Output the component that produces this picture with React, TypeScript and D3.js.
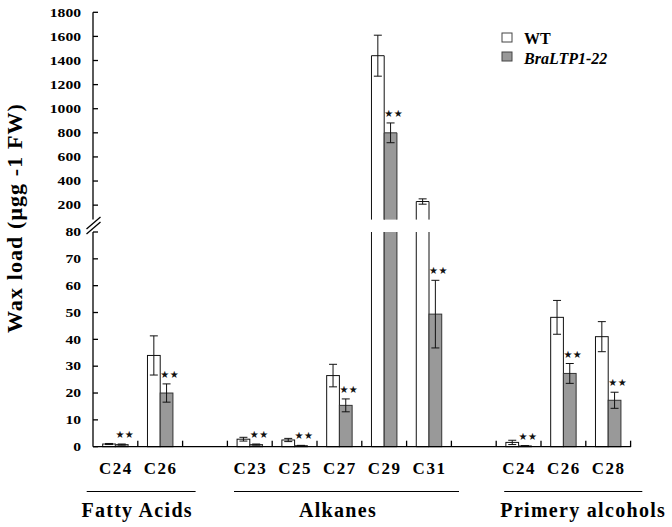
import React from "react";
import * as d3 from "d3";

// ---------- data ----------
const slotLabels = ["C24", "C26", "", "C23", "C25", "C27", "C29", "C31", "", "C24", "C26", "C28"];
const seriesNames = ["WT", "BraLTP1-22"];
const wtValues = [1.0, 34, null, 2.8, 2.5, 26.5, 1440, 230, null, 1.6, 48.2, 41];
const wtErrors = [0.2, 7.3, null, 0.7, 0.6, 4.2, 170, 22, null, 0.8, 6.3, 5.6];
const mutValues = [0.8, 20, null, 0.8, 0.4, 15.4, 800, 49.4, null, 0.3, 27.3, 17.3];
const mutErrors = [0.2, 3.4, null, 0.2, 0.1, 2.4, 82, 12.6, null, 0.1, 3.7, 3.0];
const significant = [true, true, false, true, true, true, true, true, false, true, true, true];
const groupNames = ["Fatty Acids", "Alkanes", "Primery alcohols"];
const groupFirstSlot = [0, 3, 9];
const groupLastSlot = [1, 7, 11];
const upperTicks = [200, 400, 600, 800, 1000, 1200, 1400, 1600, 1800];
const lowerTicks = [0, 10, 20, 30, 40, 50, 60, 70, 80];
const yLabel = "Wax load (μgg -1 FW)";

// ---------- layout ----------
const W = 672;
const H = 527;
const FONT = "'Liberation Serif', 'Times New Roman', serif";
const axisX = 93;
const axisRight = 630.6;
const BREAK = 80;

const xSlot = d3
  .scaleBand<number>()
  .domain(slotLabels.map((_, i) => i))
  .range([axisX, axisRight])
  .padding(0);
const xInner = d3
  .scaleBand<string>()
  .domain(seriesNames)
  .range([0, xSlot.bandwidth()])
  .paddingInner(0)
  .paddingOuter(0.76);

const yUpper = d3.scaleLinear().domain([BREAK, 1800]).range([219.6, 12.3]);
const yLower = d3.scaleLinear().domain([0, BREAK]).range([446.7, 232]);
const yOf = (v: number) => (v >= BREAK ? yUpper(v) : yLower(v));

const groupPad: [number, number][] = [
  [-6.3, 13],
  [6.6, 7.6],
  [8, 11.7],
];
const groupTextShift = [-4, -8.5, 10];

function Bar({ x, w, v, fill, stroke }: { x: number; w: number; v: number; fill: string; stroke: string }) {
  if (v < BREAK) {
    const y0 = yLower(0);
    const y1 = yLower(v);
    return (
      <rect x={x} y={y1} width={w} height={y0 - y1} fill={fill} stroke={stroke} strokeWidth={1} />
    );
  }
  const lowTop = yLower(BREAK);
  const lowBot = yLower(0);
  const upTop = yUpper(v);
  const upBot = yUpper(BREAK);
  return (
    <g>
      <rect x={x} y={lowTop} width={w} height={lowBot - lowTop} fill={fill} stroke="none" />
      <path d={`M${x},${lowTop}V${lowBot}H${x + w}V${lowTop}`} fill="none" stroke={stroke} strokeWidth={1} />
      <rect x={x} y={upTop} width={w} height={upBot - upTop} fill={fill} stroke="none" />
      <path d={`M${x},${upBot}V${upTop}H${x + w}V${upBot}`} fill="none" stroke={stroke} strokeWidth={1} />
    </g>
  );
}

function ErrorBar({ cx, v, e }: { cx: number; v: number; e: number }) {
  const yt = yOf(v + e);
  const yb = yOf(Math.max(v - e, 0));
  const cap = 4;
  return (
    <g stroke="#111" strokeWidth={1} fill="none">
      <line x1={cx} x2={cx} y1={yt} y2={yb} />
      <line x1={cx - cap} x2={cx + cap} y1={yt} y2={yt} />
      <line x1={cx - cap} x2={cx + cap} y1={yb} y2={yb} />
    </g>
  );
}

export default function App() {
  const bw = xInner.bandwidth();
  const series = [
    { name: seriesNames[0], values: wtValues, errors: wtErrors, fill: "#ffffff", stroke: "#111" },
    { name: seriesNames[1], values: mutValues, errors: mutErrors, fill: "#999999", stroke: "#333" },
  ];

  return (
    <svg width={W} height={H} style={{ display: "block", position: "absolute", left: 0, top: 0 }} fontFamily={FONT}>
      <rect x={0} y={0} width={W} height={H} fill="#ffffff" />

      {/* bars */}
      {series.map((s) =>
        slotLabels.map((_, i) => {
          const v = s.values[i];
          if (v == null) return null;
          const x = (xSlot(i) as number) + (xInner(s.name) as number);
          return <Bar key={s.name + i} x={x} w={bw} v={v} fill={s.fill} stroke={s.stroke} />;
        })
      )}

      {/* error bars */}
      {series.map((s) =>
        slotLabels.map((_, i) => {
          const v = s.values[i];
          const e = s.errors[i];
          if (v == null || e == null) return null;
          const cx = (xSlot(i) as number) + (xInner(s.name) as number) + bw / 2;
          return <ErrorBar key={"e" + s.name + i} cx={cx} v={v} e={e} />;
        })
      )}

      {/* significance stars */}
      {slotLabels.map((_, i) => {
        const v = mutValues[i];
        const e = mutErrors[i];
        if (!significant[i] || v == null || e == null) return null;
        const x = (xSlot(i) as number) + (xInner(seriesNames[1]) as number);
        const y = yOf(v + e) - 10;
        return (
          <text
            key={"s" + i}
            x={x}
            y={y + 4}
            fontFamily="'DejaVu Sans', sans-serif"
            fontSize={10}
            letterSpacing={0.5}
            fill="#111"
          >
            ★★
          </text>
        );
      })}

      {/* y axis */}
      <g stroke="#000" strokeWidth={1.3} fill="none">
        <line x1={axisX} x2={axisX} y1={yUpper(1800)} y2={yUpper(BREAK)} />
        <line x1={axisX} x2={axisX} y1={yLower(BREAK)} y2={yLower(0)} />
        {upperTicks.map((t) => (
          <line key={"ut" + t} x1={axisX} x2={axisX + 5} y1={yUpper(t)} y2={yUpper(t)} />
        ))}
        {lowerTicks.map((t) => (
          <line key={"lt" + t} x1={axisX} x2={axisX + 5} y1={yLower(t)} y2={yLower(t)} />
        ))}
        {/* break marks */}
        <line x1={86.5} y1={229} x2={100.5} y2={217} />
        <line x1={86.5} y1={234} x2={100.5} y2={222} />
      </g>
      <g fontWeight="bold" fontSize={12.5} fill="#000">
        {upperTicks.map((t) => (
          <text key={"ul" + t} transform={`translate(81,${yUpper(t) + 4.3}) scale(1.25,1)`} textAnchor="end">
            {t}
          </text>
        ))}
        {lowerTicks.map((t) => (
          <text key={"ll" + t} transform={`translate(81,${yLower(t) + 4.3}) scale(1.25,1)`} textAnchor="end">
            {t}
          </text>
        ))}
      </g>

      {/* x axis */}
      <g stroke="#000" strokeWidth={1.3}>
        <line x1={axisX} x2={axisRight + 0.5} y1={yLower(0)} y2={yLower(0)} />
        {slotLabels.map((_, i) => {
          const x = (xSlot(i) as number) + xSlot.bandwidth();
          return <line key={"xt" + i} x1={x} x2={x} y1={yLower(0)} y2={yLower(0) - 6} />;
        })}
      </g>
      <g fontWeight="bold" fontSize={17} fill="#000" textAnchor="middle" letterSpacing={1.5}>
        {slotLabels.map((l, i) =>
          l ? (
            <text key={"xl" + i} x={(xSlot(i) as number) + xSlot.bandwidth() / 2 + 0.5} y={474}>
              {l}
            </text>
          ) : null
        )}
      </g>

      {/* groups */}
      {groupNames.map((g, k) => {
        const x1 = (xSlot(groupFirstSlot[k]) as number) + groupPad[k][0];
        const x2 = (xSlot(groupLastSlot[k]) as number) + xSlot.bandwidth() + groupPad[k][1];
        const cx = (x1 + x2) / 2 + groupTextShift[k];
        return (
          <g key={"g" + k}>
            <line x1={x1} x2={x2} y1={491.5} y2={491.5} stroke="#000" strokeWidth={1.2} />
            <text x={cx} y={516.5} textAnchor="middle" fontWeight="bold" fontSize={20} letterSpacing={1.3} fill="#000">
              {g}
            </text>
          </g>
        );
      })}

      {/* y label */}
      <text
        transform={`translate(22,218) rotate(-90)`}
        textAnchor="middle"
        fontWeight="bold"
        fontSize={22}
        letterSpacing={1.1}
        fill="#000"
      >
        {yLabel}
      </text>

      {/* legend */}
      <g>
        <rect x={502} y={33} width={10} height={9} fill="#ffffff" stroke="#444" strokeWidth={1} />
        <text x={524} y={43.5} fontWeight="bold" fontSize={16} fill="#000">
          {seriesNames[0]}
        </text>
        <rect x={502} y={52} width={10} height={9} fill="#999999" stroke="#444" strokeWidth={1} />
        <text x={524} y={63.5} fontWeight="bold" fontStyle="italic" fontSize={16} fill="#000">
          {seriesNames[1]}
        </text>
      </g>
    </svg>
  );
}
